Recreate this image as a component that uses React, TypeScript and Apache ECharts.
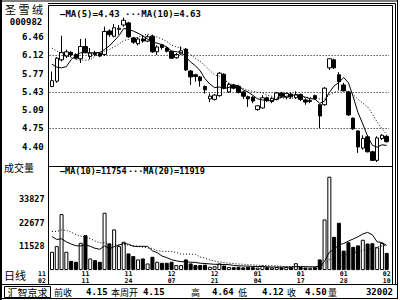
import React, { useEffect, useRef } from "react";
import * as echarts from "echarts";

const stockName = "圣 雪 绒";
const stockCode = "000982";

const dates = [
  "11/02","11/03","11/04","11/05","11/08","11/09","11/10","11/11","11/12","11/15",
  "11/16","11/17","11/18","11/19","11/22","11/23","11/24","11/25","11/26","11/29",
  "11/30","12/01","12/02","12/03","12/06","12/07","12/09","12/10","12/13","12/14",
  "12/15","12/16","12/17","12/20","12/21","12/22","12/23","12/24","12/27","12/28",
  "12/29","12/30","12/31","01/04","01/05","01/06","01/07","01/10","01/11","01/12",
  "01/13","01/14","01/17","01/18","01/19","01/20","01/21","01/24","01/25","01/26",
  "01/27","01/28","01/31","02/01","02/02","02/03","02/04","02/07","02/08","02/09",
  "02/10"
];

// [open, close, low, high]
const candles: number[][] = [
  [5.53, 5.64, 5.52, 5.81], [5.63, 6.06, 5.60, 6.08], [6.03, 6.17, 6.00, 6.48], [6.10, 6.18, 6.06, 6.22],
  [6.17, 6.12, 6.08, 6.19], [6.13, 6.06, 6.04, 6.15], [6.05, 6.28, 5.97, 6.42], [6.28, 6.17, 6.15, 6.43],
  [6.09, 6.16, 6.04, 6.25], [6.16, 6.13, 6.10, 6.20], [6.15, 6.10, 6.08, 6.16], [6.13, 6.56, 6.10, 6.65],
  [6.57, 6.50, 6.46, 6.60], [6.47, 6.63, 6.45, 6.70], [6.60, 6.62, 6.50, 6.68], [6.68, 6.77, 6.65, 6.82],
  [6.72, 6.46, 6.44, 6.74], [6.44, 6.36, 6.33, 6.46], [6.33, 6.42, 6.30, 6.45], [6.42, 6.38, 6.35, 6.48],
  [6.38, 6.46, 6.36, 6.50], [6.47, 6.18, 6.16, 6.50], [6.18, 6.27, 6.12, 6.30], [6.31, 6.26, 6.22, 6.33],
  [6.25, 6.19, 6.17, 6.27], [6.19, 6.06, 6.05, 6.20], [6.07, 6.13, 6.05, 6.16], [6.14, 6.20, 6.12, 6.28],
  [6.23, 5.84, 5.82, 6.25], [5.82, 5.71, 5.56, 5.84], [5.75, 5.72, 5.62, 5.77], [5.71, 5.64, 5.53, 5.73],
  [5.53, 5.47, 5.40, 5.55], [5.30, 5.35, 5.24, 5.40], [5.29, 5.37, 5.27, 5.39], [5.36, 5.78, 5.34, 5.80],
  [5.76, 5.50, 5.48, 5.78], [5.43, 5.57, 5.41, 5.60], [5.56, 5.50, 5.48, 5.58], [5.53, 5.42, 5.40, 5.55],
  [5.43, 5.35, 5.30, 5.45], [5.34, 5.30, 5.15, 5.36], [5.33, 5.26, 5.22, 5.35], [5.10, 5.17, 5.08, 5.18],
  [5.13, 5.32, 5.12, 5.37], [5.32, 5.27, 5.24, 5.34], [5.25, 5.31, 5.22, 5.33], [5.29, 5.41, 5.27, 5.43],
  [5.41, 5.35, 5.32, 5.43], [5.33, 5.40, 5.29, 5.42], [5.39, 5.34, 5.30, 5.41], [5.32, 5.38, 5.30, 5.44],
  [5.38, 5.29, 5.26, 5.40], [5.28, 5.24, 5.19, 5.31], [5.25, 5.27, 5.22, 5.30], [5.36, 5.30, 5.28, 5.38],
  [5.19, 4.98, 4.75, 5.20], [5.19, 5.50, 5.17, 5.52], [5.88, 6.05, 5.84, 6.05], [6.03, 5.88, 5.86, 6.05],
  [5.75, 5.62, 5.47, 5.80], [5.56, 5.45, 5.44, 5.60], [5.43, 5.00, 4.98, 5.45], [4.94, 4.74, 4.72, 4.95],
  [4.70, 4.40, 4.29, 4.71], [4.38, 4.56, 4.35, 4.62], [4.59, 4.31, 4.30, 4.62], [4.31, 4.15, 4.14, 4.33],
  [4.15, 4.57, 4.12, 4.60], [4.56, 4.62, 4.53, 4.64], [4.60, 4.50, 4.48, 4.62]
];

const volumes = [
  8740, 11460, 26740, 8740, 4440, 3980, 13040, 16700, 5570, 4780,
  3980, 27380, 12740, 19430, 11460, 13530, 7960, 6690, 5100, 5570,
  3180, 6370, 3980, 3500, 3500, 3980, 2390, 2390, 5100, 3180,
  2400, 2400, 2600, 1600, 1800, 3200, 2200, 1500, 1400, 1600,
  1300, 1500, 1400, 1200, 2100, 1400, 1200, 1500, 1300, 1500,
  1400, 3300, 1500, 1200, 1100, 1342, 5100, 24200, 44598, 15900,
  22600, 9300, 13300, 11100, 11800, 14500, 12700, 12838, 10900, 12900,
  8202
];

// closes / volumes of the sessions just before the visible window (feed the moving averages)
const priorCloses = [6.62, 6.58, 6.60, 6.50, 6.45, 6.35, 6.23, 6.07, 5.46];
const priorVolumes = [12000, 13000, 11940, 22000, 26000, 30000, 25000, 21000, 27000, 22060,
  25000, 24000, 22940, 15000, 12000, 14000, 11000, 13320, 14000];

const priceTicks = [4.40, 4.75, 5.09, 5.43, 5.77, 6.12, 6.46];
const priceGridLines = [6.12, 5.43, 4.75];
const volumeTicks = [11528, 22677, 33827];

const statusLabels = ["前收", "4.15", "本周开", "4.15", "高", "4.64", "低", "4.12", "收", "4.50", "量", "32002"];
const panelTitle = "汇智京求";

function movingAverage(prior: number[], values: number[], n: number) {
  const all = prior.concat(values);
  return values.map((_, i) => {
    const end = prior.length + i;
    let s = 0;
    for (let k = end - n + 1; k <= end; k++) s += all[k];
    return s / n;
  });
}

const MONO = '"DejaVu Sans Mono", "Liberation Mono", monospace';
const CJK = '"Noto Sans CJK SC", sans-serif';

export default function App() {
  const ref = useRef<HTMLDivElement>(null);
  useEffect(() => {
    if (!ref.current) return;
    const chart = echarts.init(ref.current, undefined, { renderer: "svg" });
    const closes = candles.map((c) => c[1]);
    const ma5 = movingAverage(priorCloses, closes, 5);
    const ma10 = movingAverage(priorCloses, closes, 10);
    const vma10 = movingAverage(priorVolumes, volumes, 10);
    const vma20 = movingAverage(priorVolumes, volumes, 20);
    const last = closes.length - 1;

    const gridLeft = 49.6;
    const gridRight = 10.9;

    const line = (x1: number, y1: number, x2: number, y2: number, w = 1) => ({
      type: "line",
      shape: { x1, y1, x2, y2 },
      style: { stroke: "#000", lineWidth: w },
      silent: true,
    });
    const text = (t: string, x: number, y: number, font: string, align = "left") => ({
      type: "text",
      x,
      y,
      style: { text: t, font, fill: "#000", textAlign: align, textVerticalAlign: "middle" },
      silent: true,
    });

    const statusX = [54, 86, 111, 143, 191, 212, 238, 262, 287, 305, 328, 393];
    const statusGraphics = statusLabels.map((s, i) => {
      const isNum = /^[0-9.]+$/.test(s);
      return text(
        s,
        statusX[i],
        292,
        isNum ? `bold 9px ${MONO}` : `9px ${CJK}`,
        i === statusLabels.length - 1 ? "right" : "left"
      );
    });

    const option: any = {
      animation: false,
      backgroundColor: "#fff",
      grid: [
        { left: gridLeft, right: gridRight, top: 6, height: 157 },
        { left: gridLeft, right: gridRight, top: 176.7, height: 93.4 },
      ],
      xAxis: [
        {
          type: "category", gridIndex: 0, data: dates, boundaryGap: true,
          axisLine: { show: false }, axisTick: { show: false }, axisLabel: { show: false }, splitLine: { show: false },
        },
        {
          type: "category", gridIndex: 1, data: dates, boundaryGap: true,
          axisLine: { show: false }, axisTick: { show: false }, splitLine: { show: false },
          axisLabel: {
            show: true,
            interval: (idx: number) => idx === 0 || idx % 9 === 7,
            margin: 0.5,
            color: "#000",
            fontFamily: MONO,
            fontWeight: "bold",
            fontSize: 6.5,
            lineHeight: 7,
            formatter: (value: string, index: number) => {
              const [m, d] = value.split("/");
              return index === 0 ? `{f|${m}}\n{f|${d}}` : `${m}\n${d}`;
            },
            rich: {
              f: { padding: [0, 20, 0, 0], fontFamily: MONO, fontWeight: "bold", fontSize: 6.5, lineHeight: 7, color: "#000" },
            },
          },
        },
      ],
      yAxis: [
        {
          type: "value", gridIndex: 0, min: 4.101, max: 7.036, scale: true,
          splitLine: { show: false }, axisLine: { show: false }, axisTick: { show: false },
          axisLabel: {
            customValues: priceTicks,
            formatter: (v: number) => v.toFixed(2),
            margin: 6, color: "#000", fontFamily: MONO, fontWeight: "bold", fontSize: 9,
          },
        },
        {
          type: "value", gridIndex: 1, min: 0, max: 44598,
          splitLine: { show: false }, axisLine: { show: false }, axisTick: { show: false },
          axisLabel: {
            customValues: volumeTicks,
            formatter: (v: number) => String(v),
            margin: 5, color: "#000", fontFamily: MONO, fontWeight: "bold", fontSize: 8.5,
          },
        },
      ],
      series: [
        {
          type: "candlestick", xAxisIndex: 0, yAxisIndex: 0, data: candles, barWidth: 4,
          itemStyle: { color: "#fff", color0: "#000", borderColor: "#000", borderColor0: "#000", borderColorDoji: "#000", borderWidth: 1 },
          z: 2,
        },
        {
          type: "line", xAxisIndex: 0, yAxisIndex: 0, data: ma5, symbol: "none", z: 3,
          lineStyle: { color: "#000", width: 1 },
          markLine: {
            silent: true, symbol: ["none", "none"], label: { show: false },
            lineStyle: { color: "#000", type: [1, 2], width: 1 },
            data: priceGridLines.map((v) => ({ yAxis: v })),
          },
        },
        {
          type: "line", xAxisIndex: 0, yAxisIndex: 0, data: ma10, symbol: "none", z: 3,
          lineStyle: { color: "#000", width: 1, type: [1, 2] },
        },
        {
          type: "bar", xAxisIndex: 1, yAxisIndex: 1, barWidth: 4,
          data: volumes.map((v, i) => ({
            value: v,
            itemStyle: { color: candles[i][1] >= candles[i][0] ? "#fff" : "#000" },
          })),
          itemStyle: { borderColor: "#000", borderWidth: 1 },
        },
        {
          type: "line", xAxisIndex: 1, yAxisIndex: 1, data: vma10, symbol: "none", z: 3,
          lineStyle: { color: "#000", width: 1 },
        },
        {
          type: "line", xAxisIndex: 1, yAxisIndex: 1, data: vma20, symbol: "none", z: 3,
          lineStyle: { color: "#000", width: 1, type: [1, 2] },
        },
      ],
      graphic: [
        line(1, 0, 1, 300, 2),
        line(0, 1, 398, 1),
        line(397.5, 0, 397.5, 299),
        line(48, 3.5, 395.5, 3.5),
        line(395.5, 3.5, 395.5, 284.5),
        line(48.5, 5.5, 392.5, 5.5),
        line(48.5, 5.5, 48.5, 284.5),
        line(392.5, 5.5, 392.5, 284.5),
        line(48.5, 166.5, 392.5, 166.5),
        line(0, 284.5, 398, 284.5),
        line(0, 298.5, 398, 298.5),
        {
          type: "rect", shape: { x: 4.5, y: 286.5, width: 46, height: 11 },
          style: { fill: "none", stroke: "#000", lineWidth: 1 }, silent: true,
        },
        text(stockName, 5, 9, `11px ${CJK}`),
        text(stockCode, 26, 21.5, `bold 9px ${MONO}`, "center"),
        text(`—MA(5)=${ma5[last].toFixed(2)}`, 60, 13.5, `bold 9px ${MONO}`),
        text(`···MA(10)=${ma10[last].toFixed(2)}`, 125, 13.5, `bold 9px ${MONO}`),
        text("成交量", 4, 167, `10px ${CJK}`),
        text(`—MA(10)=${Math.round(vma10[last])}`, 60, 171, `bold 8.5px ${MONO}`),
        text(`···MA(20)=${Math.round(vma20[last])}`, 128, 171, `bold 8.5px ${MONO}`),
        text("日线", 4, 275, `11px ${CJK}`),
        text(panelTitle, 27.5, 292, `10px ${CJK}`, "center"),
        ...statusGraphics,
      ],
    };
    chart.setOption(option);
    return () => chart.dispose();
  }, []);
  return (
    <div
      ref={ref}
      style={{ position: "fixed", left: 0, top: 0, width: 400, height: 300, background: "#fff" }}
    />
  );
}
